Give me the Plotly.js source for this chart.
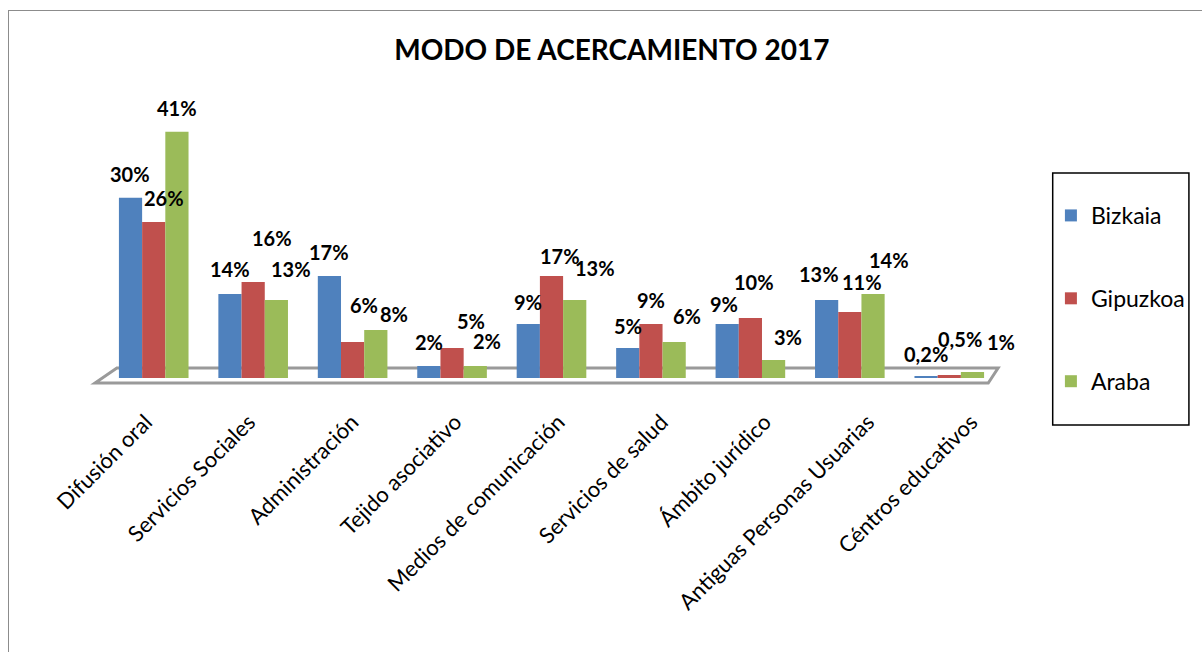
<!DOCTYPE html>
<html>
<head>
<meta charset="utf-8">
<script src="https://cdn.plot.ly/plotly-3.0.1.min.js"></script>
<style>
  html, body { margin: 0; padding: 0; background: #fff; overflow: hidden; }
  #frame { position: absolute; left: 8px; top: 10px; width: 1300px; height: 700px; border: 1.5px solid #8c8c8c; box-sizing: border-box; }
  #chart { position: absolute; left: 0; top: 0; width: 1202px; height: 652px; }
</style>
</head>
<body>
<div id="frame"></div>
<div id="chart"></div>
<script>
// ---- data ----
const categories = ["Difusión oral", "Servicios Sociales", "Administración", "Tejido asociativo",
  "Medios de comunicación", "Servicios de salud", "Ámbito jurídico",
  "Antiguas Personas Usuarias", "Céntros educativos"];
const bizkaia  = [30, 14, 17, 2, 9, 5, 9, 13, 0.2];
const gipuzkoa = [26, 16, 6, 5, 17, 9, 10, 11, 0.5];
const araba    = [41, 13, 8, 2, 13, 6, 3, 14, 1];
const seriesNames = ["Bizkaia", "Gipuzkoa", "Araba"];

// ---- styles / label placement (pixels) ----
const seriesColors = ["#4f81bd", "#c0504d", "#9bbb59"];
const barOffsetPx = [-23.3, 0, 23.3];
const labelDx = [
  [0, 0, 0, 0, 0, 0, -3, -8, 0],
  [10, 19, 11, 19, 8, 0, 4, 12, 11],
  [0, 15, 18, 12, 20, 13, 14, 16, 28]
];
const labelUp = [
  [24, 25, 24, 24, 22, 22, 20, 26, 23],
  [24, 44, 37, 27, 20, 24, 36, 30, 36],
  [24, 31, 16, 25, 32, 26, 23, 34, 30]
];

const fmt = v => String(v).replace('.', ',') + '%';
const FONT = "Lato, 'Open Sans', sans-serif";
const allSeries = [bizkaia, gipuzkoa, araba];

const traces = allSeries.map((vals, i) => ({
  type: 'bar',
  name: seriesNames[i],
  legendgroup: seriesNames[i],
  x: categories,
  y: vals,
  marker: { color: seriesColors[i] },
  hoverinfo: 'x+y+name'
}));

// invisible trace carrying the (perspective-spaced) category labels
traces.push({
  type: 'scatter', mode: 'markers',
  x: categories, y: categories.map(() => 0),
  xaxis: 'x2', yaxis: 'y',
  marker: { opacity: 0 },
  showlegend: false, hoverinfo: 'skip'
});

const annotations = [];
allSeries.forEach((vals, i) => {
  vals.forEach((v, j) => {
    annotations.push({
      xref: 'x', yref: 'y', x: categories[j], y: v,
      text: '<b>' + fmt(v) + '</b>',
      showarrow: false,
      xanchor: 'center', yanchor: 'middle',
      xshift: barOffsetPx[i] + labelDx[i][j],
      yshift: labelUp[i][j],
      font: { family: FONT, size: 20, color: '#000' }
    });
  });
});

const layout = {
  width: 1202, height: 652,
  paper_bgcolor: 'rgba(0,0,0,0)',
  plot_bgcolor: 'rgba(0,0,0,0)',
  margin: { l: 104, r: 198, t: 100, b: 274 },
  title: {
    text: '<b>MODO DE ACERCAMIENTO 2017</b>',
    font: { family: FONT, size: 28, color: '#000' },
    x: 0.509, xanchor: 'center', y: 0.923, yanchor: 'middle'
  },
  barmode: 'group',
  bargap: 0.3,
  bargroupgap: 0,
  xaxis: {
    type: 'category',
    range: [-0.5, 8.5],
    showticklabels: false,
    showgrid: false, zeroline: false, showline: false, ticks: ''
  },
  xaxis2: {
    type: 'category',
    overlaying: 'x', anchor: 'y', side: 'bottom',
    range: [-0.405, 8.27],
    tickangle: -45,
    tickfont: { family: FONT, size: 22, color: '#000' },
    ticklabelstandoff: 26,
    showgrid: false, zeroline: false, showline: false, ticks: ''
  },
  yaxis: {
    range: [0, 46.3],
    visible: false, showgrid: false, zeroline: false
  },
  showlegend: true,
  legend: {
    x: 1.058, xanchor: 'left',
    y: 0.662, yanchor: 'top',
    borderwidth: 0,
    bgcolor: 'rgba(0,0,0,0)',
    font: { family: FONT, size: 23, color: '#000' },
    tracegroupgap: 50,
    itemwidth: 30
  },
  annotations: annotations,
  shapes: [
    {
      type: 'path', xref: 'paper', yref: 'paper', layer: 'below',
      path: 'M -0.01 -0.018 L 0.988 -0.018 L 0.999 0.036 L 0.0144 0.036 Z',
      line: { color: '#9a9a9a', width: 3 },
      fillcolor: 'rgba(0,0,0,0)'
    },
    {
      type: 'rect', xref: 'paper', yref: 'paper', layer: 'above',
      x0: 1.06, x1: 1.2122, y0: -0.169, y1: 0.737,
      line: { color: '#000', width: 1.5 },
      fillcolor: 'rgba(0,0,0,0)'
    }
  ]
};

Plotly.newPlot('chart', traces, layout, { displayModeBar: false, responsive: false });
</script>
</body>
</html>
